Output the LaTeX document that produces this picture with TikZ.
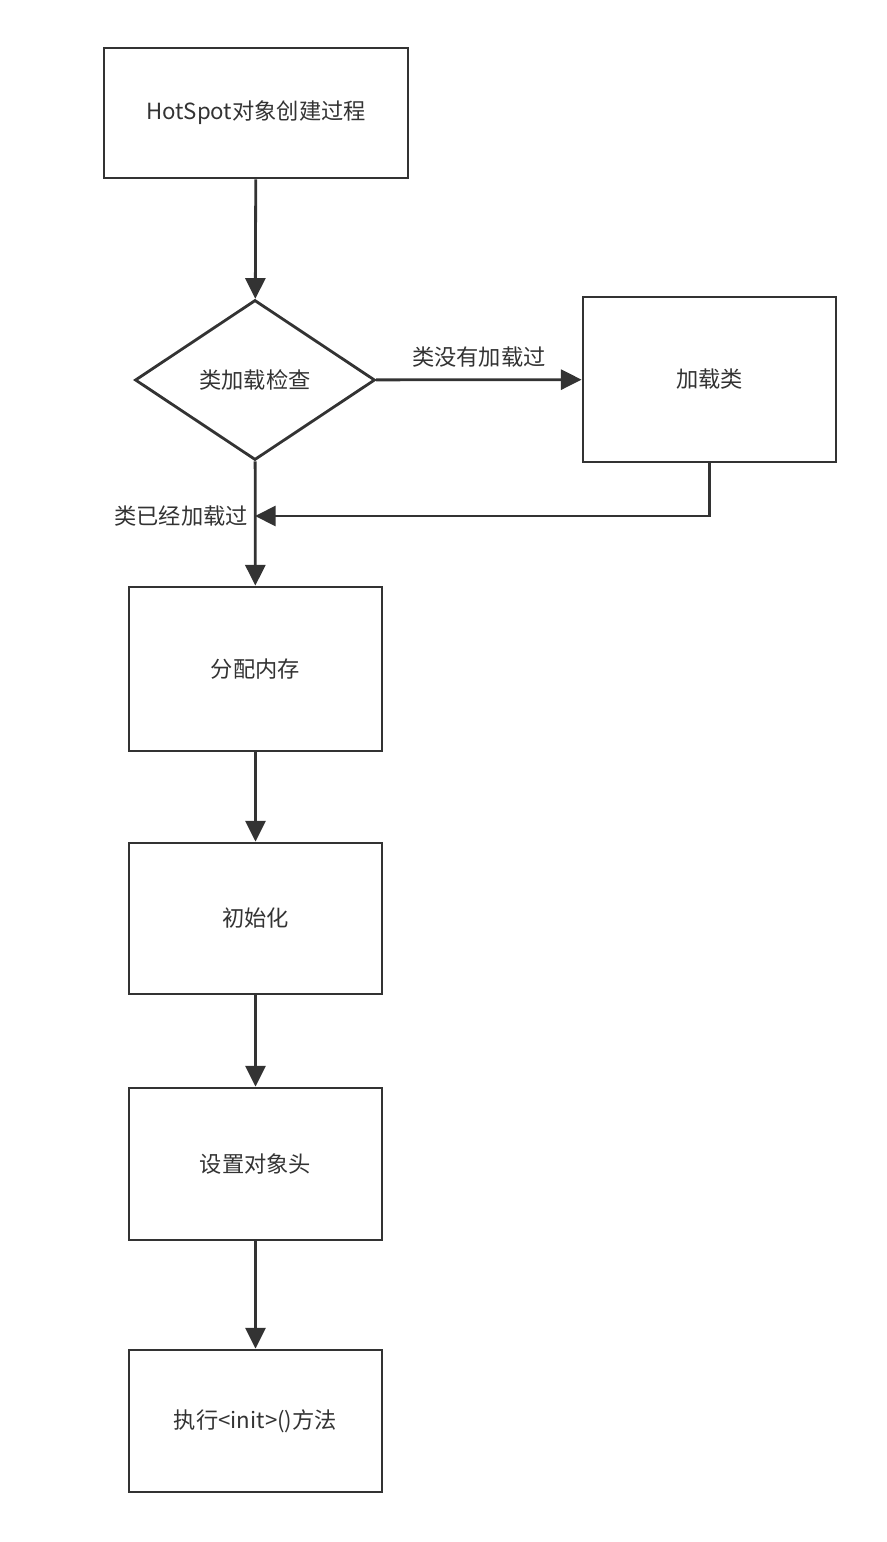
\documentclass[tikz,border=0pt]{standalone}
\usepackage{fontspec}
\setmainfont{Noto Sans CJK SC}
\usetikzlibrary{arrows.meta,shapes.geometric}
\definecolor{linegray}{HTML}{333333}
\tikzset{
  box/.style={draw=linegray, line width=2.4pt, minimum width=7.59cm, inner sep=0pt},
  flow/.style={draw=linegray, line width=2.4pt, -{Triangle[length=0.62cm,width=0.6cm]}},
  lbl/.style={text=linegray}
}
\begin{document}
\begin{tikzpicture}[x=0.03cm, y=-0.03cm, font=\fontsize{19}{23}\selectfont, text=linegray]
        \useasboundingbox (0,0) rectangle (886,1542);

        % Boxes
        \node[box, minimum width=9.12cm, minimum height=3.9cm] (start) at (256,113) {HotSpot对象创建过程};
        \node[draw=linegray, line width=2.4pt, diamond, aspect=1.5, minimum width=7.2cm, minimum height=4.8cm, inner sep=0pt] (check) at (255,380) {类加载检查};
        \node[box, minimum height=4.95cm] (load) at (709.5,379.5) {加载类};
        \node[box, minimum height=4.92cm] (alloc) at (255.5,669) {分配内存};
        \node[box, minimum height=4.53cm] (init) at (255.5,918.5) {初始化};
        \node[box, minimum height=4.56cm] (header) at (255.5,1164) {设置对象头};
        \node[box, minimum height=4.26cm] (exec) at (255.5,1421) {执行<init>()方法};

        % Connectors
        \draw[flow] (start) -- (check);
        \draw[flow] (check) -- node[lbl, above, yshift=0.2cm] {类没有加载过} (load);
        \draw[flow] (check) -- (alloc);
        \coordinate (merge) at (check.south |- 0,516);
        \draw[flow] (load.south) |- (merge);
        \node[lbl, left] (loaded) at (252,516) {类已经加载过};
        \draw[flow] (alloc) -- (init);
        \draw[flow] (init) -- (header);
        \draw[flow] (header) -- (exec);
\end{tikzpicture}
\end{document}
